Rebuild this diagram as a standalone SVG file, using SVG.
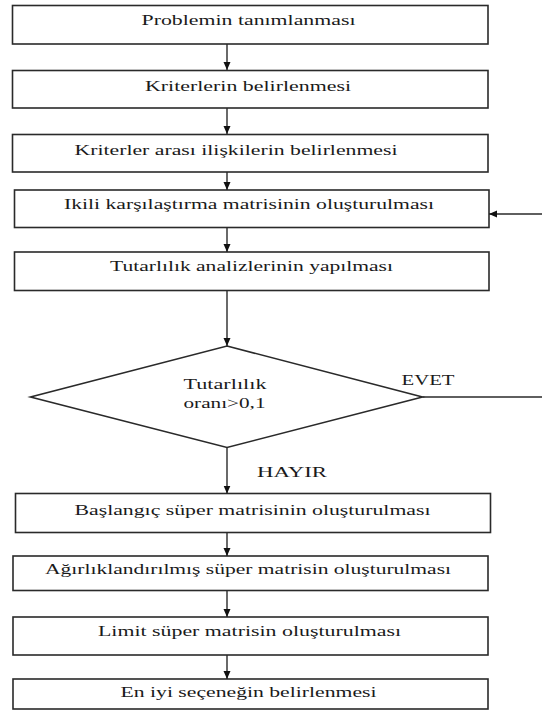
<svg xmlns="http://www.w3.org/2000/svg" width="542" height="713" viewBox="0 0 542 713">
<style>
.box{fill:#fff;stroke:#2a2a2a;stroke-width:1.6}
.t{font-family:"Liberation Serif","Times New Roman",serif;font-size:15px;fill:#1a1a1a}
.c{fill:none;stroke:#2a2a2a;stroke-width:1.4}
</style>
<defs>
<marker id="ah" markerUnits="userSpaceOnUse" markerWidth="8" markerHeight="8" viewBox="0 0 8 8" refX="8" refY="4" orient="auto">
<path d="M0,0.5 L8,4 L0,7.5 Z" fill="#111"/>
</marker>
</defs>
<rect width="542" height="713" fill="#fff"/>
<g id="n1"><rect class="box" x="12.5" y="5.5" width="475.5" height="38.5"/><text class="t" x="141.5" y="24.5" textLength="214" lengthAdjust="spacingAndGlyphs">Problemin tanımlanması</text></g>
<g id="n2"><rect class="box" x="12.5" y="70.5" width="475.5" height="37.5"/><text class="t" x="145" y="90.5" textLength="206" lengthAdjust="spacingAndGlyphs">Kriterlerin belirlenmesi</text></g>
<g id="n3"><rect class="box" x="12.5" y="134.5" width="475.5" height="37.5"/><text class="t" x="74.5" y="154.5" textLength="323" lengthAdjust="spacingAndGlyphs">Kriterler arası ilişkilerin belirlenmesi</text></g>
<g id="n4"><rect class="box" x="14.5" y="190" width="474.5" height="37.5"/><text class="t" x="64" y="209" textLength="370" lengthAdjust="spacingAndGlyphs">Ikili karşılaştırma matrisinin oluşturulması</text></g>
<g id="n5"><rect class="box" x="14.5" y="252" width="474.5" height="38.5"/><text class="t" x="110" y="270.5" textLength="283" lengthAdjust="spacingAndGlyphs">Tutarlılık analizlerinin yapılması</text></g>
<g id="d1"><polygon class="box" points="227,346 422.5,397 227,447.5 30.5,397"/><text class="t" x="183.5" y="389" textLength="83" lengthAdjust="spacingAndGlyphs">Tutarlılık</text><text class="t" x="183.5" y="408" textLength="82" lengthAdjust="spacingAndGlyphs">oranı&gt;0,1</text></g>
<g id="n6"><rect class="box" x="15.5" y="493.5" width="475" height="39"/><text class="t" x="74.5" y="515" textLength="356" lengthAdjust="spacingAndGlyphs">Başlangıç süper matrisinin oluşturulması</text></g>
<g id="n7"><rect class="box" x="13" y="556" width="475" height="34.5"/><text class="t" x="45" y="574" textLength="406" lengthAdjust="spacingAndGlyphs">Ağırlıklandırılmış süper matrisin oluşturulması</text></g>
<g id="n8"><rect class="box" x="13" y="617" width="475" height="38"/><text class="t" x="98" y="636" textLength="303" lengthAdjust="spacingAndGlyphs">Limit süper matrisin oluşturulması</text></g>
<g id="n9"><rect class="box" x="13" y="679" width="475" height="30"/><text class="t" x="120.5" y="697" textLength="256" lengthAdjust="spacingAndGlyphs">En iyi seçeneğin belirlenmesi</text></g>
<g id="connectors">
<line class="c" x1="227" y1="44" x2="227" y2="70" marker-end="url(#ah)"/>
<line class="c" x1="227" y1="108" x2="227" y2="134" marker-end="url(#ah)"/>
<line class="c" x1="227" y1="172" x2="227" y2="190" marker-end="url(#ah)"/>
<line class="c" x1="227" y1="227.5" x2="227" y2="252" marker-end="url(#ah)"/>
<line class="c" x1="227" y1="290.5" x2="227" y2="346" marker-end="url(#ah)"/>
<line class="c" x1="227" y1="447.5" x2="227" y2="493.5" marker-end="url(#ah)"/>
<line class="c" x1="227" y1="532.5" x2="227" y2="556" marker-end="url(#ah)"/>
<line class="c" x1="227" y1="590.5" x2="227" y2="617" marker-end="url(#ah)"/>
<line class="c" x1="227" y1="655" x2="227" y2="679" marker-end="url(#ah)"/>
<line class="c" x1="422.5" y1="397" x2="542" y2="397"/>
<line class="c" x1="542" y1="214" x2="489" y2="214" marker-end="url(#ah)"/>
<text class="t" x="401.5" y="385" textLength="53" lengthAdjust="spacingAndGlyphs">EVET</text>
<text class="t" x="257" y="476.5" textLength="70" lengthAdjust="spacingAndGlyphs">HAYIR</text>
</g>
</svg>
